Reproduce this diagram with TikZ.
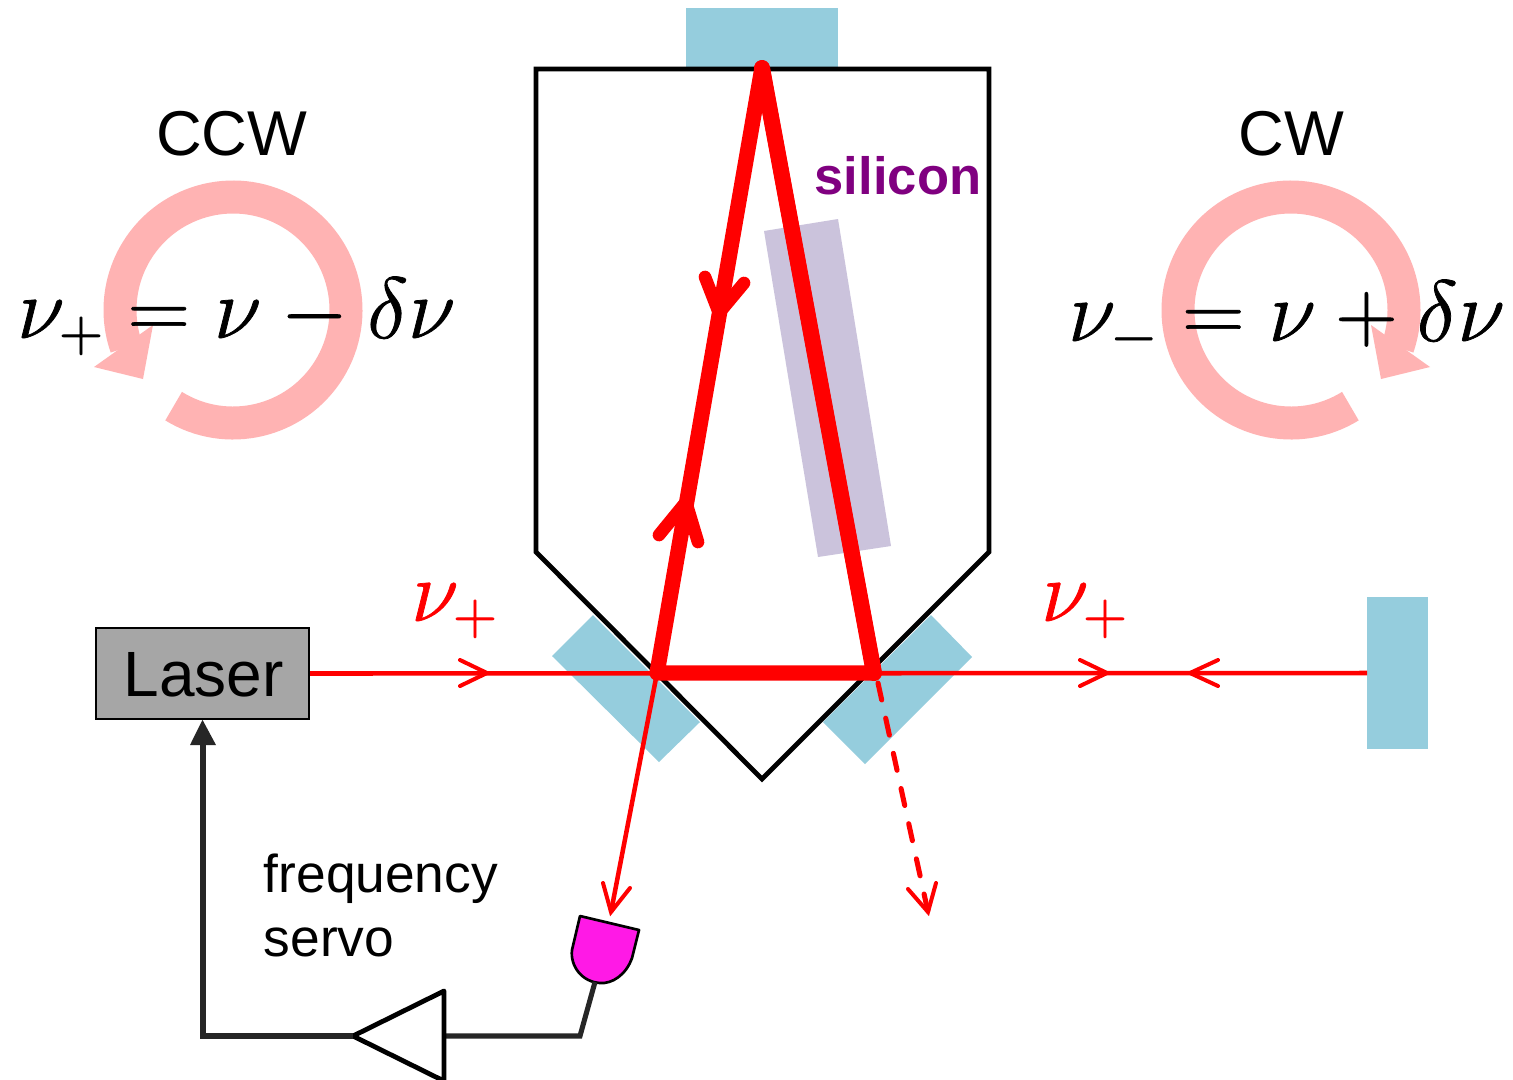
\documentclass[tikz,border=0pt]{standalone}
\usepackage{fix-cm}
\usepackage{fontspec}
\setmainfont{Liberation Sans}
\definecolor{mirrorblue}{HTML}{95CDDD}
\definecolor{siliconlilac}{HTML}{CBC3DC}
\definecolor{ringpink}{HTML}{FFB3B3}
\definecolor{wiregrey}{HTML}{262626}
\definecolor{detmagenta}{HTML}{FF19E6}
\definecolor{laserfill}{HTML}{A6A6A6}
\definecolor{labelpurple}{HTML}{800080}
\newcommand{\heavy}[1]{\special{pdf:code 2 Tr 0.55 w}#1\special{pdf:code 0 Tr}}
\tikzset{
  mirror/.style={fill=mirrorblue,draw=none},
  housing/.style={draw=black,line width=3.6pt,line join=miter},
  thickbeam/.style={draw=red,line width=11.5pt,line join=round,line cap=round},
  thickbarb/.style={draw=red,line width=9.5pt,line join=miter,line cap=round},
  thinbeam/.style={draw=red,line width=3.4pt},
  thinbarb/.style={draw=red,line width=3pt,line join=miter,line cap=round},
  wire/.style={draw=wiregrey,line width=3.8pt,line join=miter},
  ring/.style={draw=ringpink,line width=24.75pt},
  eqn/.style={inner sep=0pt,anchor=base west,font=\fontsize{65}{65}\selectfont},
  labeltext/.style={inner sep=0pt,anchor=base west,align=left},
}
\begin{document}
\begin{tikzpicture}[x=0.75pt,y=-0.75pt]
\clip (0,0) rectangle (1513,1079);
\fill[white] (0,0) rectangle (1513,1079);
% mirrors
\fill[mirror] (686,8) rectangle (838,69);
\fill[mirror] (552,656) -- (593,615) -- (700,722) -- (659,762) -- cycle;
\fill[mirror] (931,615) -- (972,657) -- (865,764) -- (823,722) -- cycle;
\fill[mirror] (1367,597) rectangle (1428,749);
% silicon
\fill[siliconlilac] (764,231) -- (838,219) -- (891,546) -- (818,557) -- cycle;
% housing
\draw[housing] (536,69) -- (989,69) -- (989,552) -- (762,779) -- (536,552) -- cycle;
% rings
\draw[ring] (233,310) ++(-238.3:113) arc[start angle=-238.3,end angle=-559.3,radius=113];
\fill[ringpink] (94,367) -- (153,325) -- (143,379) -- cycle;
\draw[ring] (1291,310) ++(-301.7:113) arc[start angle=-301.7,end angle=19.3,radius=113];
\fill[ringpink] (1430,367) -- (1371,325) -- (1381,379) -- cycle;
% coordinates of the beam
\coordinate (top) at (762,68);
\coordinate (bl) at (657,673);
\coordinate (br) at (874,673);
\coordinate (det) at (611,912);
\coordinate (dashend) at (928,912);
\coordinate (dashstart) at (878,683);
% thin beams
\node[draw=black,line width=1.5pt,fill=laserfill,minimum width=159.75pt,minimum height=68pt,inner sep=0pt,text height=36pt,text depth=0.8pt,font=\fontsize{48}{48}\selectfont] (laser) at (202.5,673.5) {\hspace*{1.5pt}Laser};
\coordinate (endmirror) at (1367,673);
\draw[thinbeam] (laser.east) -- (endmirror);
\coordinate (a1) at (487,673);
\coordinate (a2) at (1107,673);
\coordinate (a3) at (1190,673);
\draw[thinbarb] (460,660) -- (a1) -- (460,686);
\draw[thinbarb] (1080,660) -- (a2) -- (1080,686);
\draw[thinbarb] (1218,660) -- (a3) -- (1218,686);
% output beams
\draw[draw=red,line width=3.4pt] (bl) -- (det);
\draw[thinbarb] (603,883) -- (det) -- (630,888);
\draw[draw=red,line width=3.8pt,line cap=round,dash pattern=on 13pt off 14pt] (dashstart) -- (dashend);
\draw[thinbarb] (908,889) -- (dashend) -- (936,883);
% thick beam
\draw[thickbeam] (top) -- (bl) -- (br) -- cycle;
\draw[draw=red,line width=12pt,line cap=round] (top) -- (br);
\coordinate (h1) at (719,313);
\coordinate (h2) at (686,502);
\draw[thickbarb] (705,277) -- (h1) -- (744,283);
\draw[thickbarb] (659,535) -- (h2) -- (698,542);
% detector and servo loop
\draw[draw=black,fill=detmagenta,line width=2pt,line join=round] (580,916) -- (639,930) -- (632,958) .. controls (626,975) and (612,984) .. (600,983) .. controls (582,982) and (570,966) .. (572,950) -- cycle;
\coordinate (detfoot) at (595,982);
\coordinate (corner1) at (580,1036);
\coordinate (ampin) at (445,1036);
\coordinate (ampout) at (353,1036);
\coordinate (corner2) at (203,1036);
\draw[wire] (detfoot) -- (corner1) -- (ampin);
\draw[draw=black,line width=3.6pt,line join=round] (444,991) -- (ampout) -- (444,1081) -- cycle;
\draw[wire] (ampout) -- (corner2) -- (203,745);
\fill[wiregrey] (laser.south) -- (216,745) -- (190,745) -- cycle;
% texts
\node[labeltext,font=\fontsize{47.5}{47.5}\selectfont] (ccw) at (156,155) {CCW};
\node[labeltext,font=\fontsize{47.5}{47.5}\selectfont] (cw) at (1238,155) {CW};
\node[labeltext,text=labelpurple,font=\bfseries\fontsize{39.4}{39.4}\selectfont] (si) at (814.5,194) {silicon};
\node[labeltext,font=\fontsize{40}{40}\selectfont] (freq) at (263.5,892) {frequency};
\node[labeltext,font=\fontsize{40}{40}\selectfont] (servo) at (263.5,956) {servo};
\node[eqn] (eq1) at (17,338) {\heavy{$\nu_{+}=\nu-\delta\nu$}};
\node[eqn] (eq2) at (1068,341) {\heavy{$\nu_{-}=\nu+\delta\nu$}};
\node[eqn,text=red] (n1) at (411,621) {\heavy{$\nu_{+}$}};
\node[eqn,text=red] (n2) at (1041,621) {\heavy{$\nu_{+}$}};
\end{tikzpicture}
\end{document}
